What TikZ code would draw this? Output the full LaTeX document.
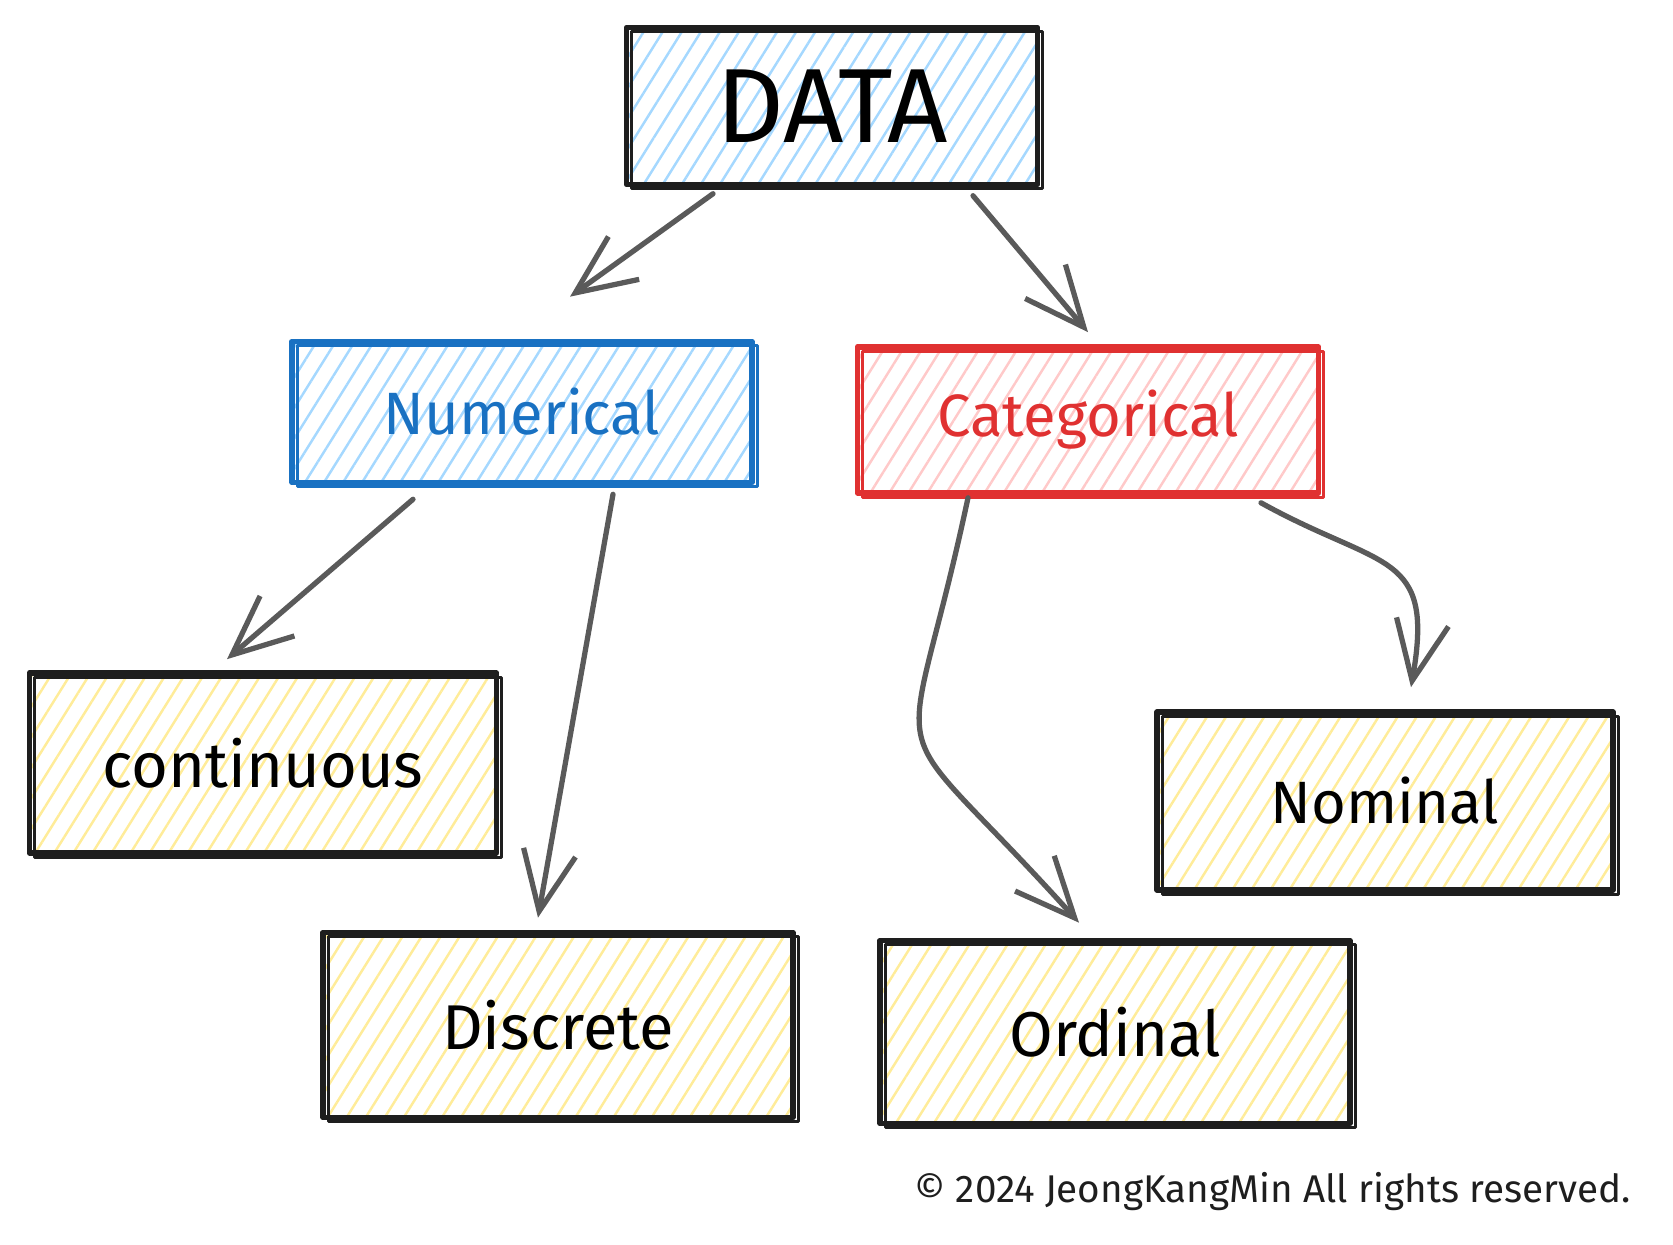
\documentclass[tikz,border=0pt]{standalone}
\usepackage{fontspec}
\setmainfont{Fira Sans}
\usetikzlibrary{arrows.meta,patterns.meta}
\definecolor{trait}{HTML}{1E1E1E}
\definecolor{gris}{HTML}{5A5A5A}
\definecolor{bleu}{HTML}{1971C2}
\definecolor{bleuclair}{HTML}{A5D8FF}
\definecolor{rouge}{HTML}{E03131}
\definecolor{rougeclair}{HTML}{FFC9C9}
\definecolor{jaune}{HTML}{FFEC99}

\tikzset{
	boite/.style={rectangle,draw=#1,line width=1.6pt,line join=round,inner sep=0pt,
		postaction={draw=#1,line width=0.9pt,transform canvas={xshift=1.5pt,yshift=-1.2pt}}},
	hachure/.style={pattern={Lines[angle=58,distance=4.6pt,line width=0.7pt]},pattern color=#1},
	lien/.style={draw=gris,line width=1.5pt,line cap=round,
		-{Straight Barb[length=17pt,width=15pt]}}
}

\begin{document}
\begin{tikzpicture}[scale=1]
	\useasboundingbox (0,0) rectangle (16.73,-12.45);
	
	\node[boite=trait,hachure=bleuclair,minimum width=4.11cm,minimum height=1.57cm,
	font=\fontsize{30}{34}\selectfont] (data)
	at (8.32,-1.06) {DATA};
	
	\node[boite=bleu,hachure=bleuclair,text=bleu,minimum width=4.60cm,minimum height=1.41cm,
	font=\fontsize{17}{20}\selectfont] (numerical)
	at (5.22,-4.12) {Numerical};
	\node[boite=rouge,hachure=rougeclair,text=rouge,minimum width=4.61cm,minimum height=1.46cm,
	font=\fontsize{17}{20}\selectfont] (categorical)
	at (10.88,-4.20) {Categorical};
	
	\node[boite=trait,hachure=jaune,minimum width=4.67cm,minimum height=1.80cm,
	font=\fontsize{18}{21}\selectfont] (continuous)
	at (2.63,-7.63) {continuous};
	\node[boite=trait,hachure=jaune,minimum width=4.70cm,minimum height=1.85cm,
	font=\fontsize{18}{21}\selectfont] (discrete)
	at (5.58,-10.25) {Discrete};
	\node[boite=trait,hachure=jaune,minimum width=4.70cm,minimum height=1.83cm,
	font=\fontsize{18}{21}\selectfont] (ordinal)
	at (11.15,-10.32) {Ordinal};
	\node[boite=trait,hachure=jaune,minimum width=4.56cm,minimum height=1.78cm,
	font=\fontsize{17}{20}\selectfont] (nominal)
	at (13.85,-8.01) {Nominal};
	
	\node[anchor=east,text=trait,font=\fontsize{11}{13}\selectfont] (droits)
	at (16.43,-11.92) {© 2024 JeongKangMin All rights reserved.};
	
	\path ([shift={(-1.19,-0.08)}]data.south) edge[lien] ([shift={(0.48,0.42)}]numerical.north);
	\path ([shift={(1.41,-0.10)}]data.south) edge[lien] ([shift={(0,0.12)}]categorical.north);
	\path ([shift={(-1.09,-0.14)}]numerical.south) edge[lien] ([shift={(-0.36,0.11)}]continuous.north);
	\path ([shift={(0.91,-0.09)}]numerical.south) edge[lien] ([shift={(-0.20,0.12)}]discrete.north);
	\path ([shift={(-1.20,-0.02)}]categorical.south) edge[lien,out=-102,in=132,looseness=1.8] ([shift={(-0.36,0.15)}]ordinal.north);
	\path ([shift={(1.73,-0.07)}]categorical.south) edge[lien,out=-29,in=80,looseness=1.5] ([shift={(0.26,0.22)}]nominal.north);
\end{tikzpicture}
\end{document}
